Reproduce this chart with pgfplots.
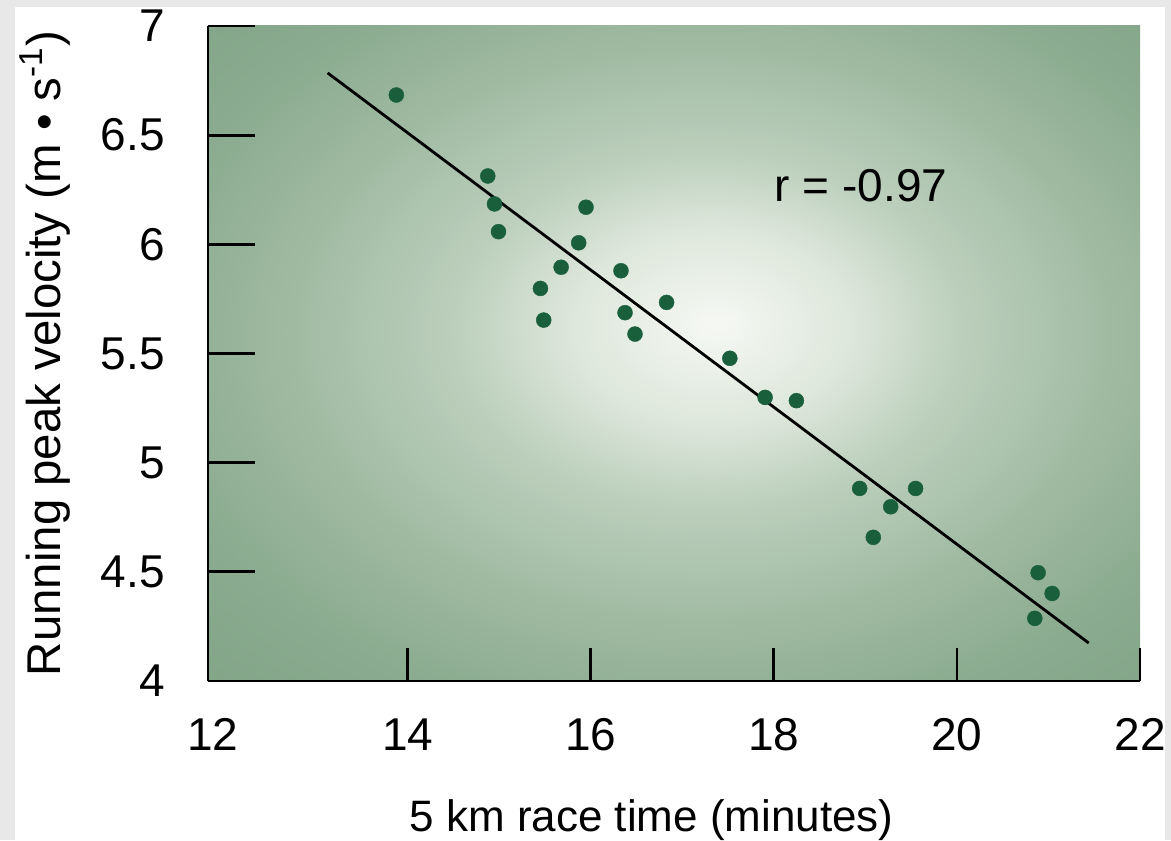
\documentclass[border=0pt]{standalone}
\usepackage{fontspec}
\setmainfont{Liberation Sans}
\usepackage{pgfplots}
\pgfplotsset{compat=1.18}
\definecolor{bordergray}{HTML}{E8E8E8}
\definecolor{dotgreen}{HTML}{195F3C}
\definecolor{bgc0}{HTML}{F6F8F4}
\definecolor{bgc1}{HTML}{DDE7DB}
\definecolor{bgc2}{HTML}{BCCFBC}
\definecolor{bgc3}{HTML}{A0BAA2}
\definecolor{bgc4}{HTML}{8AAB8F}
\definecolor{bgc5}{HTML}{7EA083}
\definecolor{bgc6}{HTML}{7A9C80}
\pgfdeclareradialshading{plotbg}{\pgfpoint{2.3bp}{2.3bp}}{color(0bp)=(bgc0); color(7.5bp)=(bgc1); color(13.5bp)=(bgc2); color(22bp)=(bgc3); color(30bp)=(bgc4); color(41bp)=(bgc5); color(60bp)=(bgc6)}
\begin{document}
\begin{tikzpicture}
\path[use as bounding box] (-104pt,-79.5pt) rectangle (481.5pt,340.5pt);
\fill[bordergray] (-104pt,-79.5pt) rectangle (481.5pt,340.5pt);
\fill[white] (-96.5pt,-79.5pt) rectangle (478.5pt,337pt);
\begin{axis}[
  scale only axis, width=466pt, height=327.5pt,
  xmin=11.82, xmax=22, ymin=4, ymax=7,
  axis x line=bottom, axis y line=left,
  axis line style={-, line width=1.4pt, black},
  tick align=inside,
  xtick={14,16,18,20,22},
  ytick={4,4.5,5,5.5,6,6.5,7},
  minor tick num=0,
  xtick style={line width=1.4pt, black, /pgfplots/major tick length=16.5pt},
  ytick style={line width=1.4pt, black, /pgfplots/major tick length=23.5pt},
  extra x ticks={11.873}, extra x tick labels={12},
  extra x tick style={xtick style={draw=none}, tick style={draw=none}},
  tick label style={font=\fontsize{23}{27}\selectfont},
  /pgf/number format/assume math mode=true,
  xticklabel style={anchor=north, inner sep=0pt, yshift=-18.5pt},
  yticklabel style={anchor=east, inner sep=0pt, xshift=-21.5pt},
  axis background/.style={shade, shading=plotbg},
  every axis x label/.style={at={(axis description cs:0.476,-0.2305)}, anchor=base, font=\fontsize{22}{26}\selectfont},
  every axis y label/.style={at={(axis description cs:-0.158,0.50)}, rotate=90, anchor=base, font=\fontsize{23.7}{28}\selectfont},
  xlabel={5 km race time (minutes)},
  ylabel={Running peak velocity (m • s\textsuperscript{-1})},
]
\addplot[black, line width=1.4pt] coordinates {(13.127,6.785) (21.44,4.174)};
\addplot[only marks, mark=*, mark size=3.75pt, mark options={draw=dotgreen, fill=dotgreen, line width=0.2pt}] table {
x y
13.877 6.684
14.876 6.313
14.949 6.185
14.993 6.058
15.949 6.170
15.869 6.007
15.677 5.895
15.451 5.798
15.487 5.653
16.331 5.879
16.375 5.687
16.484 5.589
16.829 5.734
17.520 5.478
17.905 5.299
18.247 5.284
18.938 4.882
19.549 4.882
19.277 4.798
19.087 4.658
20.887 4.496
21.040 4.401
20.851 4.287
};
\node[anchor=base, font=\fontsize{23}{28}\selectfont] at (axis cs:18.953,6.198) {r = -0.97};
\end{axis}
\end{tikzpicture}
\end{document}
